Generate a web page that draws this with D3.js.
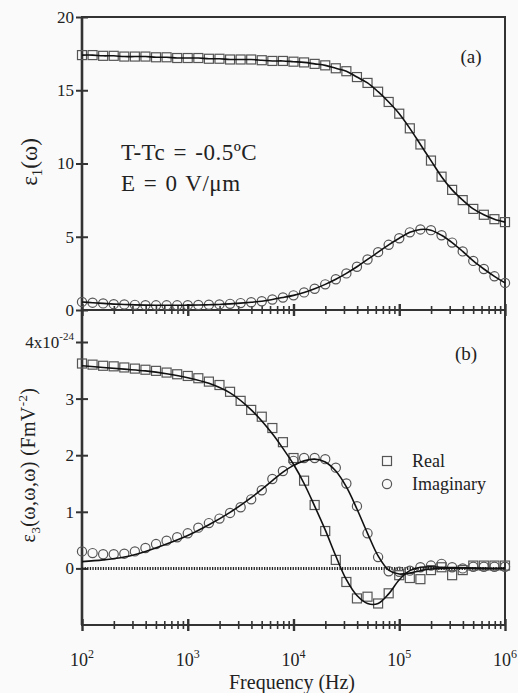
<!DOCTYPE html>
<html>
<head>
<meta charset="utf-8">
<script src="https://cdn.jsdelivr.net/npm/d3@7"></script>
<style>
  body { margin: 0; background: #fafafa; }
  svg, svg text { font-family: "Liberation Serif", "DejaVu Serif", "Times New Roman", Times, serif; }
  svg { display: block; }
</style>
</head>
<body>
<svg id="chart" width="518" height="693"></svg>
<script>
// measured points, log10 of frequency (Hz)
const freqExp = [2.0, 2.1, 2.2, 2.3, 2.4, 2.5, 2.6, 2.7, 2.8, 2.9,
  3.0, 3.1, 3.2, 3.3, 3.4, 3.5, 3.6, 3.7, 3.8, 3.9,
  4.0, 4.1, 4.2, 4.3, 4.4, 4.5, 4.6, 4.7, 4.8, 4.9,
  5.0, 5.1, 5.2, 5.3, 5.4, 5.5, 5.6, 5.7, 5.8, 5.9, 6.0]

// panel (a): eps1
const realA = [17.4, 17.4, 17.35, 17.35, 17.3, 17.3, 17.3, 17.25, 17.25, 17.2,
  17.2, 17.2, 17.15, 17.15, 17.1, 17.1, 17.1, 17.05, 17.0, 17.0,
  16.95, 16.9, 16.8, 16.7, 16.5, 16.3, 15.9, 15.5, 14.9, 14.2,
  13.4, 12.4, 11.3, 10.2, 9.1, 8.2, 7.5, 6.9, 6.5, 6.2, 6.0]
const imagA = [0.55, 0.5, 0.45, 0.4, 0.38, 0.35, 0.33, 0.32, 0.32, 0.32,
  0.33, 0.34, 0.36, 0.38, 0.42, 0.47, 0.53, 0.6, 0.72, 0.85,
  1.0, 1.2, 1.45, 1.75, 2.1, 2.5, 2.95, 3.45, 3.95, 4.45,
  4.9, 5.3, 5.5, 5.45, 5.1, 4.6, 4.0, 3.35, 2.8, 2.3, 1.85]

// panel (b): eps3, units of 1e-24
const realB = [3.62, 3.6, 3.58, 3.57, 3.55, 3.53, 3.51, 3.49, 3.46, 3.43,
  3.4, 3.36, 3.3, 3.24, 3.12, 2.96, 2.8, 2.68, 2.48, 2.23,
  1.95, 1.55, 1.12, 0.66, 0.15, -0.24, -0.53, -0.5, -0.62, -0.44,
  -0.12, -0.17, -0.19, -0.03, 0.02, -0.12, -0.03, 0.05, 0.05, 0.05, 0.05]
const imagB = [0.3, 0.27, 0.25, 0.25, 0.26, 0.3, 0.36, 0.43, 0.49, 0.55,
  0.62, 0.72, 0.8, 0.88, 0.98, 1.08, 1.22, 1.38, 1.58, 1.72,
  1.9, 1.95, 1.95, 1.93, 1.78, 1.5, 1.1, 0.62, 0.2, -0.05,
  -0.06, -0.04, 0.02, 0.05, 0.08, 0.02, 0.0, 0.03, 0.03, 0.03, 0.03]

// fitted curves for panel (b)
const fitExp = [2.0, 2.2, 2.4, 2.6, 2.8, 3.0, 3.2, 3.4, 3.6, 3.8, 3.9,
  4.0, 4.1, 4.2, 4.3, 4.4, 4.5, 4.6, 4.7, 4.8, 4.9,
  5.0, 5.1, 5.2, 5.3, 5.4, 5.6, 5.8, 6.0]
const fitRealB = [3.58, 3.55, 3.52, 3.49, 3.44, 3.37, 3.27, 3.1, 2.8, 2.38, 2.12,
  1.84, 1.5, 1.1, 0.68, 0.22, -0.2, -0.48, -0.62, -0.62, -0.45,
  -0.2, -0.04, 0.02, 0.03, 0.02, 0.01, 0, 0]
const fitImagB = [0.12, 0.15, 0.2, 0.3, 0.43, 0.58, 0.77, 0.99, 1.25, 1.55, 1.7,
  1.82, 1.9, 1.93, 1.88, 1.72, 1.44, 1.05, 0.62, 0.22, -0.03,
  -0.1, -0.08, -0.04, -0.01, 0, 0.01, 0, 0]

const ticksA = [0, 5, 10, 15, 20]
const ticksB = [0, 1, 2, 3, 4]
const decades = [1e2, 1e3, 1e4, 1e5, 1e6]

const serif = '"Liberation Serif", "DejaVu Serif", "Times New Roman", Times, serif'
const plotLeft = 82, plotRight = 505, plotTop = 17, plotMid = 310, plotBottom = 625

const svg = d3.select('#chart')
const x = d3.scaleLog().domain([1e2, 1e6]).range([plotLeft, plotRight])
const yA = d3.scaleLinear().domain([0, 20]).range([plotMid, plotTop])
const yB = d3.scaleLinear().domain([-1, 4]).range([plotBottom, 342])

const toPts = (ex, ys) => ex.map((e, i) => [Math.pow(10, e), ys[i]])

// frame
svg.append('rect')
  .attr('x', plotLeft).attr('y', plotTop)
  .attr('width', plotRight - plotLeft).attr('height', plotBottom - plotTop)
  .attr('fill', 'none').attr('stroke', '#333').attr('stroke-width', 2)
svg.append('line')
  .attr('x1', plotLeft).attr('x2', plotRight).attr('y1', plotMid).attr('y2', plotMid)
  .attr('stroke', '#333').attr('stroke-width', 2)
svg.append('line')
  .attr('x1', plotLeft).attr('x2', plotLeft).attr('y1', plotTop).attr('y2', plotBottom)
  .attr('stroke', '#333').attr('stroke-width', 2.6)

// x ticks on both panel bottoms
const minors = x.ticks().filter((t) => !decades.includes(t))
;[plotMid, plotBottom].forEach((yy) => {
  const gMinor = svg.append('g')
    .attr('transform', `translate(0, ${yy - 4})`)
    .call(d3.axisBottom(x).tickValues(minors).tickSize(8).tickFormat(''))
  gMinor.select('.domain').remove()
  gMinor.selectAll('line').attr('stroke', '#333').attr('stroke-width', 1.6)
  const gMajor = svg.append('g')
    .attr('transform', `translate(0, ${yy - 6})`)
    .call(d3.axisBottom(x).tickValues(decades).tickSize(12).tickFormat(''))
  gMajor.select('.domain').remove()
  gMajor.selectAll('line').attr('stroke', '#333').attr('stroke-width', 2.4)
})

// y axes
function yAxis(scale, values) {
  const g = svg.append('g')
    .attr('transform', `translate(${plotLeft + 6}, 0)`)
    .call(d3.axisLeft(scale).tickValues(values).tickSize(12).tickPadding(2).tickFormat(d3.format('d')))
  g.attr('font-family', serif)
  g.select('.domain').remove()
  g.selectAll('line').attr('stroke', '#333').attr('stroke-width', 2)
  g.selectAll('text').attr('font-size', 17).attr('fill', '#222')
  return g
}
yAxis(yA, ticksA)
const gB = yAxis(yB, ticksB)
gB.selectAll('.tick text').filter((d) => d === 4)
  .text(null)
  .call((t) => {
    t.append('tspan').text('4x10')
    t.append('tspan').attr('dy', -8).attr('font-size', 11).text('-24')
  })

// x tick labels
svg.append('g').selectAll('text')
  .data(decades)
  .join('text')
  .attr('x', (d) => x(d))
  .attr('y', 666)
  .attr('text-anchor', 'middle')
  .attr('font-size', 18)
  .attr('fill', '#222')
  .each(function(d) {
    const t = d3.select(this)
    t.append('tspan').text('10')
    t.append('tspan').attr('dy', -8).attr('font-size', 12).text(Math.round(Math.log10(d)))
  })

svg.append('text')
  .attr('x', 292).attr('y', 689)
  .attr('text-anchor', 'middle')
  .attr('font-size', 20).attr('fill', '#222')
  .text('Frequency (Hz)')

// y labels
const labA = svg.append('text')
  .attr('transform', 'translate(37, 162) rotate(-90)')
  .attr('text-anchor', 'middle').attr('font-size', 23).attr('fill', '#222')
labA.append('tspan').text('ε')
labA.append('tspan').attr('dy', 5).attr('font-size', 15).text('1')
labA.append('tspan').attr('dy', -5).text('(ω)')

const labB = svg.append('text')
  .attr('transform', 'translate(35, 465) rotate(-90)')
  .attr('text-anchor', 'middle').attr('font-size', 20).attr('letter-spacing', 0.4)
  .attr('fill', '#222')
labB.append('tspan').text('ε')
labB.append('tspan').attr('dy', 5).attr('font-size', 13).text('3')
labB.append('tspan').attr('dy', -5).text('(ω,ω,ω) (FmV')
labB.append('tspan').attr('dy', -8).attr('font-size', 13).text('-2')
labB.append('tspan').attr('dy', 8).text(')')

// annotations
const note = (y, s) => svg.append('text').attr('x', 121).attr('y', y)
  .attr('font-size', 23).attr('letter-spacing', 0.5).attr('word-spacing', 2)
  .attr('fill', '#222').text(s)
note(160, 'T-Tc = -0.5ºC')
note(191, 'E = 0 V/μm')
svg.append('text').attr('x', 471).attr('y', 63)
  .attr('text-anchor', 'middle').attr('font-size', 19).attr('fill', '#222').text('(a)')
svg.append('text').attr('x', 466).attr('y', 360)
  .attr('text-anchor', 'middle').attr('font-size', 19).attr('fill', '#222').text('(b)')

// zero line in panel (b)
svg.append('line')
  .attr('x1', plotLeft).attr('x2', plotRight)
  .attr('y1', yB(0)).attr('y2', yB(0))
  .attr('stroke', '#222').attr('stroke-width', 3)
  .attr('stroke-dasharray', '1.3,1.3')

// markers
const mk = { stroke: '#555', sw: 1.2, side: 9, r: 4.6 }
function squares(pts, y) {
  svg.append('g').selectAll('rect')
    .data(pts)
    .join('rect')
    .attr('x', (d) => x(d[0]) - mk.side / 2)
    .attr('y', (d) => y(d[1]) - mk.side / 2)
    .attr('width', mk.side).attr('height', mk.side)
    .attr('fill', 'none').attr('stroke', mk.stroke).attr('stroke-width', mk.sw)
}
function circles(pts, y) {
  svg.append('g').selectAll('circle')
    .data(pts)
    .join('circle')
    .attr('cx', (d) => x(d[0]))
    .attr('cy', (d) => y(d[1]))
    .attr('r', mk.r)
    .attr('fill', 'none').attr('stroke', mk.stroke).attr('stroke-width', mk.sw)
}
function curve(pts, y) {
  const line = d3.line()
    .x((d) => x(d[0]))
    .y((d) => y(d[1]))
    .curve(d3.curveCatmullRom)
  svg.append('path')
    .attr('d', line(pts))
    .attr('fill', 'none').attr('stroke', '#111').attr('stroke-width', 1.6)
}

squares(toPts(freqExp, realA), yA)
circles(toPts(freqExp, imagA), yA)
curve(toPts(freqExp, realA), yA)
curve(toPts(freqExp, imagA), yA)

squares(toPts(freqExp, realB), yB)
circles(toPts(freqExp, imagB), yB)
curve(toPts(fitExp, fitRealB), yB)
curve(toPts(fitExp, fitImagB), yB)

// legend
const legend = svg.append('g').attr('transform', 'translate(387, 0)')
legend.append('rect')
  .attr('x', -mk.side / 2).attr('y', 461 - mk.side / 2)
  .attr('width', mk.side).attr('height', mk.side)
  .attr('fill', 'none').attr('stroke', mk.stroke).attr('stroke-width', mk.sw)
legend.append('circle')
  .attr('cx', 0).attr('cy', 484).attr('r', mk.r)
  .attr('fill', 'none').attr('stroke', mk.stroke).attr('stroke-width', mk.sw)
legend.append('text').attr('x', 25).attr('y', 467)
  .attr('font-size', 18).attr('fill', '#222').text('Real')
legend.append('text').attr('x', 25).attr('y', 490)
  .attr('font-size', 18).attr('fill', '#222').text('Imaginary')
</script>
</body>
</html>
